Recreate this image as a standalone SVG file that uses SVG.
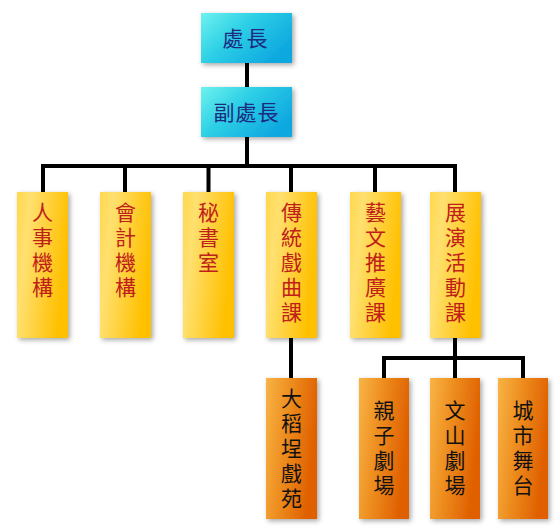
<svg xmlns="http://www.w3.org/2000/svg" width="556" height="530" viewBox="0 0 556 530">
<defs>
<linearGradient id="gc" x1="0" y1="0" x2="1" y2="0.6">
<stop offset="0" stop-color="#6ff2ee"/>
<stop offset="0.45" stop-color="#2ed0e6"/>
<stop offset="1" stop-color="#0ea8e0"/>
</linearGradient>
<linearGradient id="gy" x1="0" y1="0" x2="1" y2="0.3">
<stop offset="0" stop-color="#ffd84c"/>
<stop offset="0.25" stop-color="#ffe070"/>
<stop offset="1" stop-color="#ffc000"/>
</linearGradient>
<linearGradient id="go" x1="0" y1="0" x2="1" y2="0.3">
<stop offset="0" stop-color="#f9b445"/>
<stop offset="0.5" stop-color="#ec8a1c"/>
<stop offset="1" stop-color="#e06000"/>
</linearGradient>
<filter id="sh" x="-30%" y="-20%" width="160%" height="140%">
<feDropShadow dx="2" dy="2" stdDeviation="2.5" flood-color="#000" flood-opacity="0.35"/>
</filter>
</defs>
<style>
.c{fill:url(#gc);filter:url(#sh)}
.y{fill:url(#gy);filter:url(#sh)}
.o{fill:url(#go);filter:url(#sh)}
text{font-family:"Noto Sans CJK TC","Noto Sans CJK SC",sans-serif;font-size:21px;text-anchor:middle}
.v{writing-mode:vertical-rl;text-orientation:upright;letter-spacing:4px;text-anchor:start}
.vm{writing-mode:vertical-rl;text-orientation:upright;letter-spacing:4px;text-anchor:middle}
.tc{fill:#1c2a80}
.ty{fill:#c0201a}
.to{fill:#111}
.ln{stroke:#000;stroke-width:4;fill:none}
</style>
<g id="connectors">
<path class="ln" d="M247 63V87M247 137V166M43 166H457M43 164V192M125 164V192M208.5 164V192M291 164V192M375 164V192M455 164V192"/>
<path class="ln" d="M291 337V378M455 337V358M383 358H523M384 356V378M455 356V378M523 356V378"/>
</g>
<g id="n-chuzhang"><rect class="c" x="201" y="13" width="91" height="50"/><text class="tc" x="246.5" y="46" letter-spacing="3">處長</text></g>
<g id="n-fuchuzhang"><rect class="c" x="201" y="87" width="91" height="50"/><text class="tc" x="246.5" y="120" letter-spacing="1">副處長</text></g>
<g id="n-renshi"><rect class="y" x="17" y="192" width="51" height="146"/><text class="ty v" x="42.5" y="202">人事機構</text></g>
<g id="n-kuaiji"><rect class="y" x="100" y="192" width="51" height="146"/><text class="ty v" x="125.5" y="202">會計機構</text></g>
<g id="n-mishu"><rect class="y" x="183" y="192" width="51" height="146"/><text class="ty v" x="208.5" y="202">秘書室</text></g>
<g id="n-chuantong"><rect class="y" x="266" y="192" width="51" height="146"/><text class="ty v" x="291.5" y="202">傳統戲曲課</text></g>
<g id="n-yiwen"><rect class="y" x="350" y="192" width="51" height="146"/><text class="ty v" x="375.5" y="202">藝文推廣課</text></g>
<g id="n-zhanyan"><rect class="y" x="430" y="192" width="51" height="146"/><text class="ty v" x="455.5" y="202">展演活動課</text></g>
<g id="n-dadaocheng"><rect class="o" x="266" y="378" width="51" height="141"/><text class="to vm" x="291.5" y="450">大稻埕戲苑</text></g>
<g id="n-qinzi"><rect class="o" x="359" y="378" width="50" height="141"/><text class="to vm" x="384" y="450">親子劇場</text></g>
<g id="n-wenshan"><rect class="o" x="430" y="378" width="50" height="141"/><text class="to vm" x="455" y="450">文山劇場</text></g>
<g id="n-chengshi"><rect class="o" x="498" y="378" width="50" height="141"/><text class="to vm" x="523" y="450">城市舞台</text></g>
</svg>
